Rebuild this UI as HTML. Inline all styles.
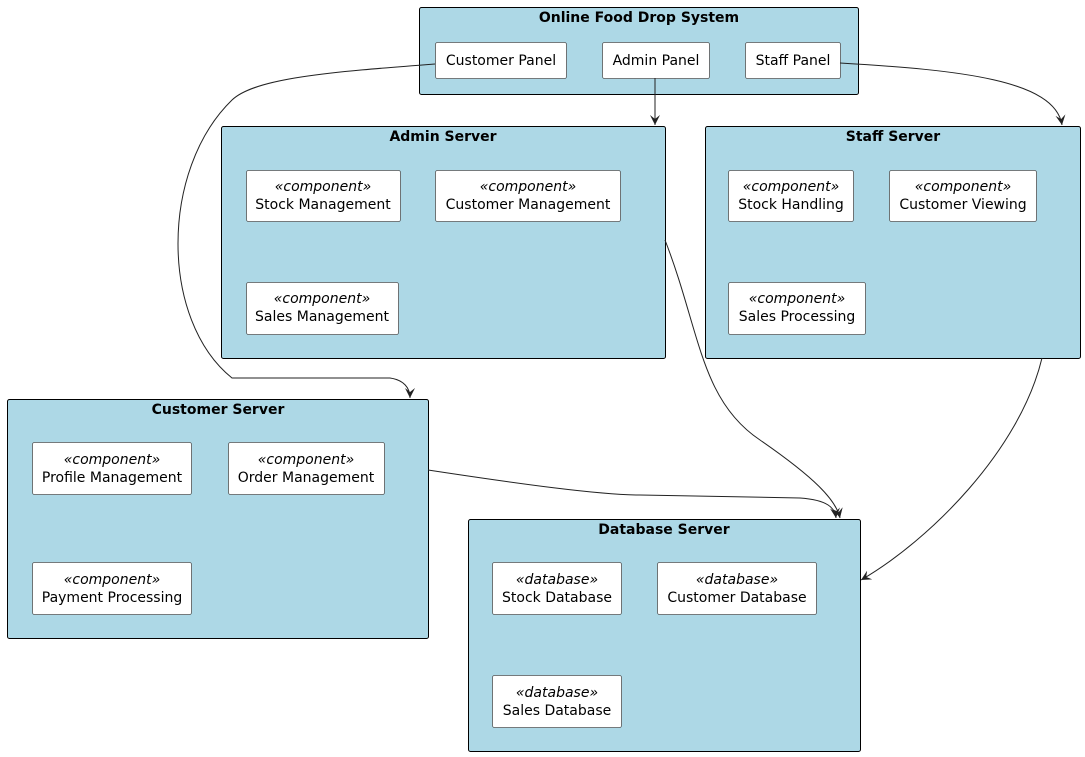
<!DOCTYPE html>
<html><head><meta charset="utf-8"><style>
body{margin:0;background:#fff;}
svg{display:block;font-family:"DejaVu Sans","Liberation Sans",sans-serif;}
.c{fill:#add8e6;stroke:#000;stroke-width:1}
.n{fill:#fff;stroke:#555;stroke-width:0.8}
.t{font-size:14px;font-weight:bold;text-anchor:middle}
.l{font-size:14px;text-anchor:middle}
.s{font-size:14px;font-style:italic;text-anchor:middle}
.e{fill:none;stroke:#222;stroke-width:1}
</style></head><body>
<svg width="1085" height="757" viewBox="0 0 1085 757">
<defs><marker id="a" markerWidth="12" markerHeight="12" refX="10" refY="5" orient="auto" markerUnits="userSpaceOnUse"><path d="M0,0 L10,5 L0,10 L4,5 Z" fill="#222"/></marker></defs>
<rect class="c" x="419.5" y="7.5" width="439" height="87" rx="2"/>
<text class="t" x="639" y="22">Online Food Drop System</text>
<rect class="n" x="435.5" y="42.5" width="131" height="36" rx="2"/><text class="l" x="501" y="65">Customer Panel</text>
<rect class="n" x="602.5" y="42.5" width="107" height="36" rx="2"/><text class="l" x="656" y="65">Admin Panel</text>
<rect class="n" x="745.5" y="42.5" width="95" height="36" rx="2"/><text class="l" x="793" y="65">Staff Panel</text>

<rect class="c" x="221.5" y="126.5" width="444" height="232" rx="2"/>
<text class="t" x="443" y="141">Admin Server</text>
<rect class="n" x="246.5" y="170.5" width="154" height="51" rx="2"/><text class="s" x="323" y="191">«component»</text><text class="l" x="323" y="209">Stock Management</text>
<rect class="n" x="435.5" y="170.5" width="185" height="51" rx="2"/><text class="s" x="528" y="191">«component»</text><text class="l" x="528" y="209">Customer Management</text>
<rect class="n" x="246.5" y="282.5" width="152" height="52" rx="2"/><text class="s" x="322" y="303">«component»</text><text class="l" x="322" y="321">Sales Management</text>

<rect class="c" x="705.5" y="126.5" width="375" height="232" rx="2"/>
<text class="t" x="893" y="141">Staff Server</text>
<rect class="n" x="728.5" y="170.5" width="125" height="51" rx="2"/><text class="s" x="791" y="191">«component»</text><text class="l" x="791" y="209">Stock Handling</text>
<rect class="n" x="889.5" y="170.5" width="147" height="51" rx="2"/><text class="s" x="963" y="191">«component»</text><text class="l" x="963" y="209">Customer Viewing</text>
<rect class="n" x="728.5" y="282.5" width="137" height="52" rx="2"/><text class="s" x="797" y="303">«component»</text><text class="l" x="797" y="321">Sales Processing</text>

<rect class="c" x="7.5" y="399.5" width="421" height="239" rx="2"/>
<text class="t" x="218" y="414">Customer Server</text>
<rect class="n" x="32.5" y="442.5" width="159" height="52" rx="2"/><text class="s" x="112" y="464">«component»</text><text class="l" x="112" y="482">Profile Management</text>
<rect class="n" x="228.5" y="442.5" width="156" height="52" rx="2"/><text class="s" x="306" y="464">«component»</text><text class="l" x="306" y="482">Order Management</text>
<rect class="n" x="32.5" y="562.5" width="159" height="52" rx="2"/><text class="s" x="112" y="584">«component»</text><text class="l" x="112" y="602">Payment Processing</text>

<rect class="c" x="468.5" y="519.5" width="392" height="232" rx="2"/>
<text class="t" x="664" y="534">Database Server</text>
<rect class="n" x="492.5" y="562.5" width="129" height="52" rx="2"/><text class="s" x="557" y="584">«database»</text><text class="l" x="557" y="602">Stock Database</text>
<rect class="n" x="657.5" y="562.5" width="159" height="52" rx="2"/><text class="s" x="737" y="584">«database»</text><text class="l" x="737" y="602">Customer Database</text>
<rect class="n" x="492.5" y="675.5" width="129" height="52" rx="2"/><text class="s" x="557" y="697">«database»</text><text class="l" x="557" y="715">Sales Database</text>

<path class="e" marker-end="url(#a)" d="M655,78 L655,125"/>
<path class="e" marker-end="url(#a)" d="M840,63 C960,70 1055,80 1062,125"/>
<path class="e" marker-end="url(#a)" d="M435,64 C330,72 255,78 232,100 C160,170 160,320 232,378 L390,378 C404,380 410,388 410,398"/>
<path class="e" marker-end="url(#a)" d="M665,240 C700,330 700,400 760,440 C815,478 836,500 840,518"/>
<path class="e" marker-end="url(#a)" d="M428,470 C520,484 600,495 640,495 L800,498 C828,500 835,508 836,518"/>
<path class="e" marker-end="url(#a)" d="M1042,358 C1020,450 930,540 861,580"/>
</svg>
</body></html>
